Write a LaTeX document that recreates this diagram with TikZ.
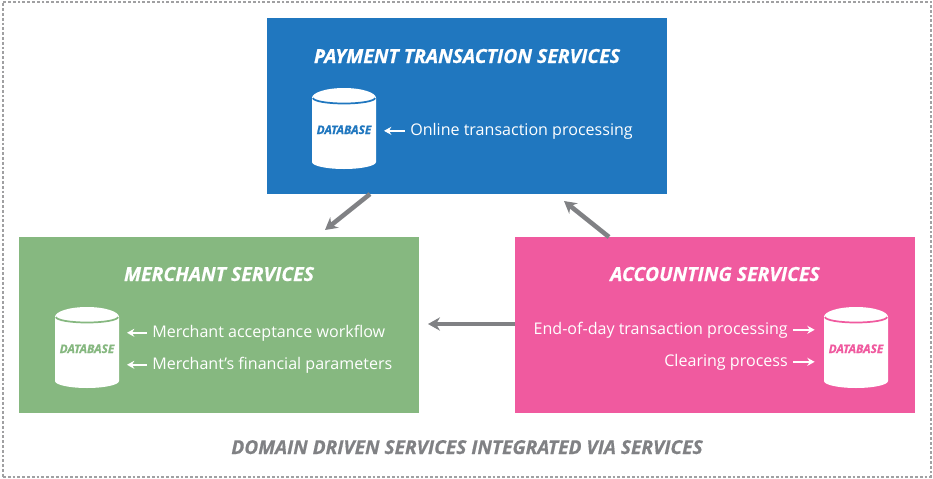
\documentclass[tikz,border=0pt]{standalone}
\usepackage{fontspec}
\setmainfont[BoldItalicFeatures={FakeBold=0.6}]{Open Sans}
\usetikzlibrary{arrows.meta,calc}
\definecolor{payblue}{HTML}{2077BF}
\definecolor{mergreen}{HTML}{86B880}
\definecolor{accpink}{HTML}{F05A9F}
\definecolor{flowgray}{HTML}{808184}
\definecolor{framegray}{HTML}{A0A0A2}
\tikzset{
  svcbox/.style={rectangle,minimum width=300pt,minimum height=132pt,inner sep=0pt,outer sep=0pt},
  svctitle/.style={text=white,anchor=base,inner sep=0pt,font=\fontsize{14.55}{16}\selectfont\bfseries\itshape},
  svcitem/.style={text=white,inner sep=0pt,font=\fontsize{12.05}{15}\selectfont},
  dbnode/.style={rectangle,minimum width=48pt,minimum height=60.75pt,inner sep=0pt,outer sep=0pt},
  dbtext/.style={anchor=base,inner sep=0pt,font=\fontsize{8.9}{10}\selectfont\bfseries\itshape},
  itemarrow/.style={-{Stealth[length=5.5pt,width=6pt]},white,line width=1.1pt},
  flowarrow/.style={-{Stealth[length=9pt,width=10pt]},flowgray,line width=3.4pt}
}
\begin{document}
\begin{tikzpicture}[x=0.75pt,y=-0.75pt]
\useasboundingbox (0,0) rectangle (933,479);
\node[draw=framegray,line width=1.5pt,dash pattern=on 2.1pt off 1.5pt,minimum width=696pt,minimum height=356.25pt,inner sep=0pt] (frame) at (467,239) {};

\node[svcbox,fill=payblue] (pay) at (467,106) {};
\node[svcbox,fill=mergreen] (mer) at (219,325) {};
\node[svcbox,fill=accpink] (acc) at (715,325) {};

\node[svctitle] (payTitle) at (467,63) {PAYMENT TRANSACTION SERVICES};
\node[svctitle] (merTitle) at (219,281) {MERCHANT SERVICES};
\node[svctitle] (accTitle) at (715,281) {ACCOUNTING SERVICES};

\node[dbnode] (payDb) at (344,128.5) {};
\node[dbnode] (merDb) at (87,347.5) {};
\node[dbnode] (accDb) at (856,347.5) {};
\foreach \db/\col in {payDb/payblue,merDb/mergreen,accDb/accpink} {
  \fill[white] ($(\db.north west)+(0,10)$) arc [start angle=180,end angle=0,x radius=32,y radius=-10]
    -- ($(\db.south east)+(0,-7)$) arc [start angle=0,end angle=180,x radius=32,y radius=7] -- cycle;
  \draw[\col,line width=1.3pt] ($(\db.north west)+(1,10)$) arc [start angle=180,end angle=0,x radius=31,y radius=5.5];
}
\node[dbtext,text=payblue] (payDbText) at (344,134) {DATABASE};
\node[dbtext,text=mergreen] (merDbText) at (87,353) {DATABASE};
\node[dbtext,text=accpink] (accDbText) at (856,353) {DATABASE};

\node[svcitem,anchor=base west] (online) at (410,135) {Online transaction processing};
\node[svcitem,anchor=base west] (workflow) at (152,337) {Merchant acceptance workflow};
\node[svcitem,anchor=base west] (params) at (152,369) {Merchant’s financial parameters};
\node[svcitem,anchor=base east] (endday) at (788,334) {End-of-day transaction processing};
\node[svcitem,anchor=base east] (clearing) at (788,366) {Clearing process};

\path[itemarrow,shorten <=4pt,shorten >=6pt] (online.west) edge (online.west -| payDb.east);
\path[itemarrow,shorten <=4pt,shorten >=6pt] (workflow.west) edge (workflow.west -| merDb.east);
\path[itemarrow,shorten <=4pt,shorten >=6pt] (params.west) edge (params.west -| merDb.east);
\path[itemarrow,shorten <=4pt,shorten >=7pt] (endday.east) edge (endday.east -| accDb.west);
\path[itemarrow,shorten <=4pt,shorten >=7pt] (clearing.east) edge (clearing.east -| accDb.west);

\coordinate (payOut) at (370,194);
\coordinate (merIn) at (325,230);
\coordinate (accOut) at (609,237);
\coordinate (payIn) at (564,201);
\coordinate (accLeft) at (515,324);
\coordinate (merRight) at (428,324);
\path (payOut) edge [flowarrow] (merIn);
\path (accOut) edge [flowarrow] (payIn);
\path (accLeft) edge [flowarrow] (merRight);

\node[text=flowgray,anchor=base,inner sep=0pt,font=\fontsize{14.35}{16}\selectfont\bfseries\itshape] (caption) at (467,454) {DOMAIN DRIVEN SERVICES INTEGRATED VIA SERVICES};
\end{tikzpicture}
\end{document}
